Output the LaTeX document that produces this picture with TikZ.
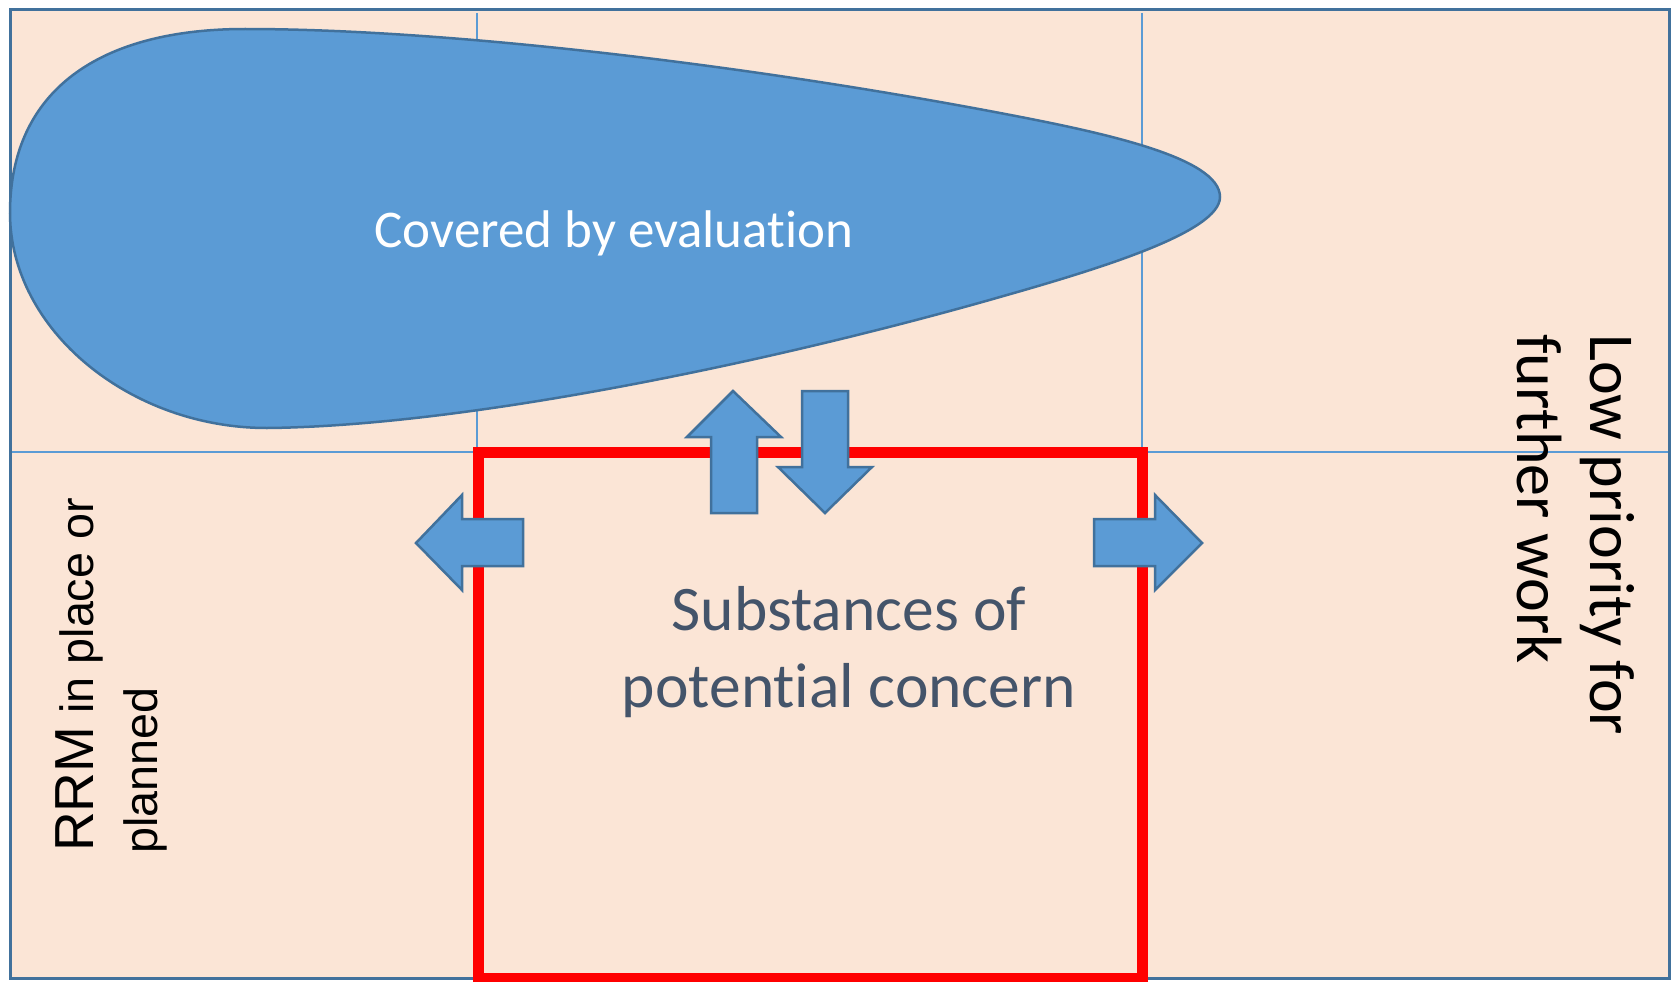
\documentclass[tikz,border=0pt]{standalone}
\usepackage{fontspec}
\setmainfont{Carlito}[Ligatures={NoCommon,NoContextual}]
\newfontfamily\arialfont{Liberation Sans}
\definecolor{peach}{HTML}{FBE5D6}
\definecolor{accblue}{HTML}{5B9BD5}
\definecolor{darkblue}{HTML}{41719C}
\definecolor{slatetext}{HTML}{44546A}
\tikzset{
  gridline/.style={draw=accblue, line width=2pt},
  frameline/.style={draw=darkblue, line width=3pt},
  blob/.style={fill=accblue, draw=darkblue, line width=2.5pt},
  redbox/.style={draw=red, line width=11pt},
  bigarrow/.style={fill=accblue, draw=darkblue, line width=2.5pt, line join=miter},
  covtxt/.style={inner sep=0pt, text=white, font=\fontsize{53}{64}\selectfont},
  subtxt/.style={inner sep=0pt, text=slatetext, font=\fontsize{63.5}{77}\selectfont},
  rtxt/.style={inner sep=0pt, text=black, font=\fontsize{64}{75}\selectfont},
  ltxt/.style={inner sep=0pt, text=black, font=\arialfont\fontsize{46.7}{56}\selectfont}
}
\begin{document}
\begin{tikzpicture}[x=1pt,y=-1pt]
\useasboundingbox (0,0) rectangle (1671,982);
% background
\fill[peach] (10,10) rectangle (1669,978);
% grid
\draw[gridline] (477,13) -- (477,978);
\draw[gridline] (1142,13) -- (1142,978);
\draw[gridline] (10,452) -- (1669,452);
\draw[frameline] (10,10) rectangle (1669,978);
% covered by evaluation shape
\draw[blob] (10,213) .. controls (10,90) and (100,29) .. (245,29)
  .. controls (450,29) and (750,65.5) .. (1000,113)
  .. controls (1100,132) and (1220,157) .. (1220,197)
  .. controls (1220,232) and (1100,268.6) .. (1000,297)
  .. controls (780,360) and (470,426) .. (267,428)
  .. controls (130,428) and (10,330) .. cycle;
\node[covtxt, anchor=base] (cov) at (614,247) {Covered by evaluation};
% red box
\draw[redbox] (478,452) rectangle (1142,978);
% arrows
\draw[bigarrow] (733,391) -- (781,437) -- (757,437) -- (757,513) -- (711,513) -- (711,437) -- (687,437) -- cycle;
\draw[bigarrow] (802,391) -- (848,391) -- (848,467) -- (872,467) -- (825,513) -- (778,467) -- (802,467) -- cycle;
\draw[bigarrow] (416,543) -- (462,495) -- (462,519) -- (523,519) -- (523,566) -- (462,566) -- (462,590) -- cycle;
\draw[bigarrow] (1202,543) -- (1155,590) -- (1155,566) -- (1094,566) -- (1094,519) -- (1155,519) -- (1155,495) -- cycle;
% texts
\node[subtxt, anchor=base] (sub1) at (849,630) {Substances of};
\node[subtxt, anchor=base] (sub2) at (849,707) {potential concern};
\node[rtxt, rotate=-90, anchor=base west] (low1) at (1590,334) {Low priority for};
\node[rtxt, rotate=-90, anchor=base west] (low2) at (1517,334) {further work};
\node[ltxt, rotate=90, anchor=base west] (rrm1) at (93,852) {{\fontsize{55}{60}\selectfont RRM} in place or};
\node[ltxt, rotate=90, anchor=base west] (rrm2) at (157,854) {planned};
\end{tikzpicture}
\end{document}
